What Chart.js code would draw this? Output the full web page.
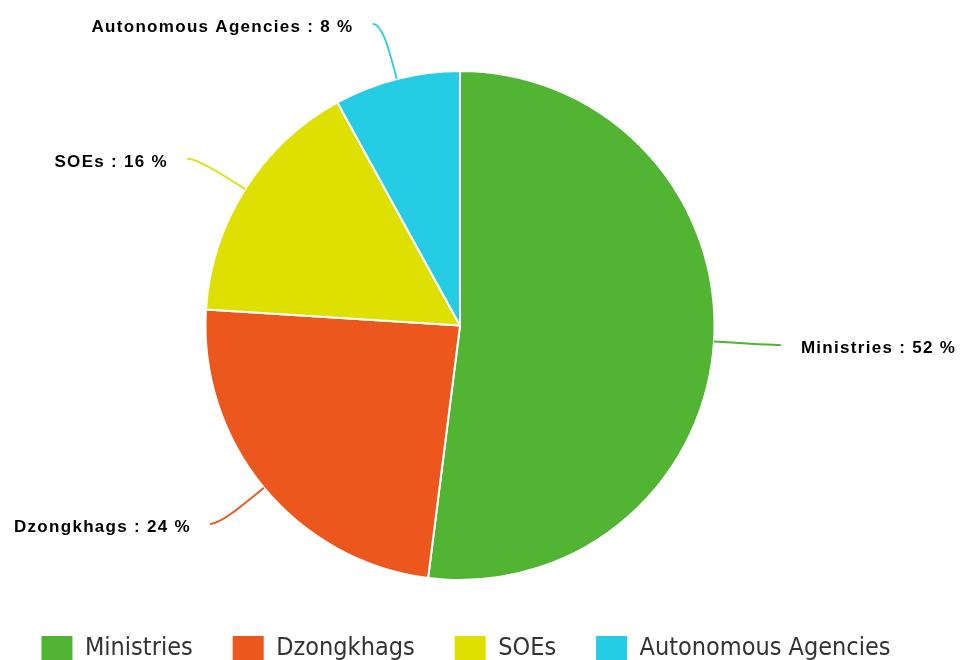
<!DOCTYPE html>
<html>
<head>
<meta charset="utf-8">
<script src="https://cdn.jsdelivr.net/npm/chart.js@4"></script>
<style>
  html, body { margin: 0; padding: 0; background: #fff; overflow: hidden; }
  #wrap { width: 990px; height: 671px; margin-left: -14px; }
</style>
</head>
<body>
<div id="wrap"><canvas id="pieChart"></canvas></div>
<script>
const categories = ['Ministries', 'Dzongkhags', 'SOEs', 'Autonomous Agencies'];
const shares = [52, 24, 16, 8];
const sliceColors = ['#52B433', '#EC571E', '#DDE000', '#26CBE4'];

// leader lines + "Name : NN %" labels outside each slice
const outsideLabels = {
    id: 'outsideLabels',
    afterLayout(chart) {
        // nudge the legend row a little to the right
        chart.legend.left += 6;
        chart.legend.right += 6;
    },
    afterDatasetsDraw(chart) {
        const ctx = chart.ctx;
        const meta = chart.getDatasetMeta(0);
        meta.data.forEach((arc, i) => {
            const p = arc.getProps(['x', 'y', 'startAngle', 'endAngle', 'outerRadius'], true);
            const mid = (p.startAngle + p.endAngle) / 2;
            const dx = Math.cos(mid), dy = Math.sin(mid);
            const side = dx >= 0 ? 1 : -1;
            const x0 = p.x + p.outerRadius * dx, y0 = p.y + p.outerRadius * dy;
            const kx = p.x + (p.outerRadius + 57) * dx, ky = p.y + (p.outerRadius + 57) * dy;
            const ex = kx + side * 10, ey = ky;

            ctx.save();
            ctx.strokeStyle = sliceColors[i];
            ctx.lineWidth = 1.8;
            ctx.beginPath();
            ctx.moveTo(x0, y0);
            ctx.bezierCurveTo(x0 + dx * 30, y0 + dy * 30, kx, ky, ex, ey);
            ctx.stroke();

            ctx.font = 'bold 17px "Liberation Sans", Arial, sans-serif';
            ctx.letterSpacing = '1.3px';
            ctx.fillStyle = '#000';
            ctx.textBaseline = 'alphabetic';
            ctx.textAlign = side > 0 ? 'left' : 'right';
            const txt = categories[i] + ' : ' + shares[i] + ' %';
            ctx.fillText(txt, ex + side * (side > 0 ? 20 : 19), ey + 8);
            ctx.restore();
        });
    }
};

const ctx = document.getElementById('pieChart').getContext('2d');
new Chart(ctx, {
    type: 'pie',
    data: {
        labels: categories,
        datasets: [{
            data: shares,
            backgroundColor: sliceColors,
            borderColor: '#ffffff',
            borderWidth: 2,
            radius: 254.5
        }]
    },
    options: {
        responsive: true,
        maintainAspectRatio: false,
        animation: false,
        layout: { padding: { top: 55, right: 42, left: 0, bottom: 0 } },
        plugins: {
            tooltip: { enabled: false },
            legend: {
                position: 'bottom',
                align: 'center',
                labels: {
                    boxWidth: 31,
                    boxHeight: 25,
                    padding: 40,
                    color: '#333',
                    font: { family: '"DejaVu Sans Condensed", "DejaVu Sans", sans-serif', size: 25 },
                    generateLabels(chart) {
                        const items = Chart.overrides.pie.plugins.legend.labels.generateLabels(chart);
                        return items.map(it => ({ ...it, lineWidth: 0 }));
                    }
                }
            }
        }
    },
    plugins: [outsideLabels]
});
</script>
</body>
</html>
